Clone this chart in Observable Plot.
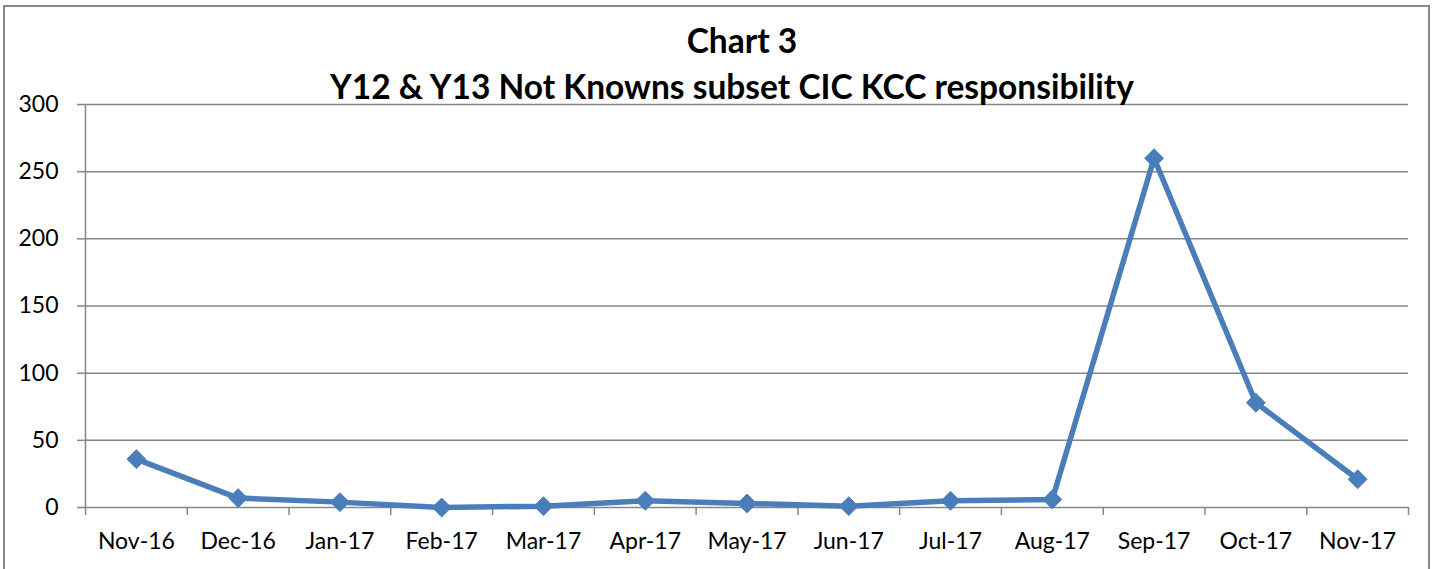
<!DOCTYPE html>
<html>
<head>
<meta charset="utf-8">
<script src="https://cdn.jsdelivr.net/npm/d3@7"></script>
<script src="https://cdn.jsdelivr.net/npm/@observablehq/plot@0.6"></script>
<style>
  html, body { margin: 0; padding: 0; background: #fff; overflow: hidden; }
  #wrap { position: relative; width: 1440px; height: 569px; }
  #border { position: absolute; left: 3px; top: 5px; width: 1427px; height: 600px; border: 2px solid #878787; box-sizing: border-box; pointer-events: none; }
</style>
</head>
<body>
<div id="wrap"><div id="border"></div></div>
<script>
const categories = ["Nov-16","Dec-16","Jan-17","Feb-17","Mar-17","Apr-17","May-17","Jun-17","Jul-17","Aug-17","Sep-17","Oct-17","Nov-17"];
const values = [36, 7, 4, 0, 1, 5, 3, 1, 5, 6, 260, 78, 21];
const yTicks = [0, 50, 100, 150, 200, 250, 300];
const titleLines = ["Chart 3", "Y12 & Y13 Not Knowns subset CIC KCC responsibility"];

const data = categories.map((c, i) => ({i, c, v: values[i]}));
const idx = d3.range(categories.length);
const bounds = d3.range(categories.length + 1).map(k => k - 0.5);
const blue = "#4a7ebb";
const grey = "#868686";
const font = "Lato, 'Open Sans', sans-serif";

const chart = Plot.plot({
  width: 1440,
  height: 569,
  marginLeft: 85,
  marginRight: 32,
  marginTop: 104,
  marginBottom: 62,
  style: {fontFamily: font, background: "transparent", overflow: "visible"},
  x: {type: "linear", domain: [-0.5, categories.length - 0.5]},
  y: {domain: [0, 300]},
  marks: [
    Plot.gridY(yTicks, {stroke: grey, strokeOpacity: 1, strokeWidth: 1.5}),
    Plot.ruleX([-0.5], {stroke: grey, strokeWidth: 1.5}),
    Plot.axisY({ticks: yTicks, tickSize: 8, tickPadding: 19, stroke: grey, strokeWidth: 1.5, fontSize: 23, fill: "#000", label: null, tickFormat: d => String(d)}),
    Plot.axisX({ticks: bounds, tickSize: 8, stroke: grey, strokeWidth: 1.5, tickFormat: () => "", label: null}),
    Plot.axisX({ticks: idx, tickSize: 0, tickPadding: 25, fontSize: 23, fill: "#000", tickFormat: i => categories[i], label: null}),
    Plot.line(data, {x: "i", y: "v", stroke: blue, strokeWidth: 5.5, strokeLinejoin: "miter"}),
    Plot.dot(data, {x: "i", y: "v", symbol: "diamond2", r: 8.5, fill: blue, stroke: blue, strokeWidth: 1}),
    Plot.text([titleLines[0]], {frameAnchor: "top", dx: -5, dy: -75, text: d => d, fontSize: 33.5, fontWeight: "bold", fill: "#000", lineAnchor: "top"}),
    Plot.text([titleLines[1]], {frameAnchor: "top", dx: -15, dy: -29, text: d => d, fontSize: 33.5, fontWeight: "bold", fill: "#000", lineAnchor: "top"})
  ]
});
document.getElementById("wrap").appendChild(chart);
chart.style.position = "absolute";
chart.style.left = "0px";
chart.style.top = "0px";
</script>
</body>
</html>
